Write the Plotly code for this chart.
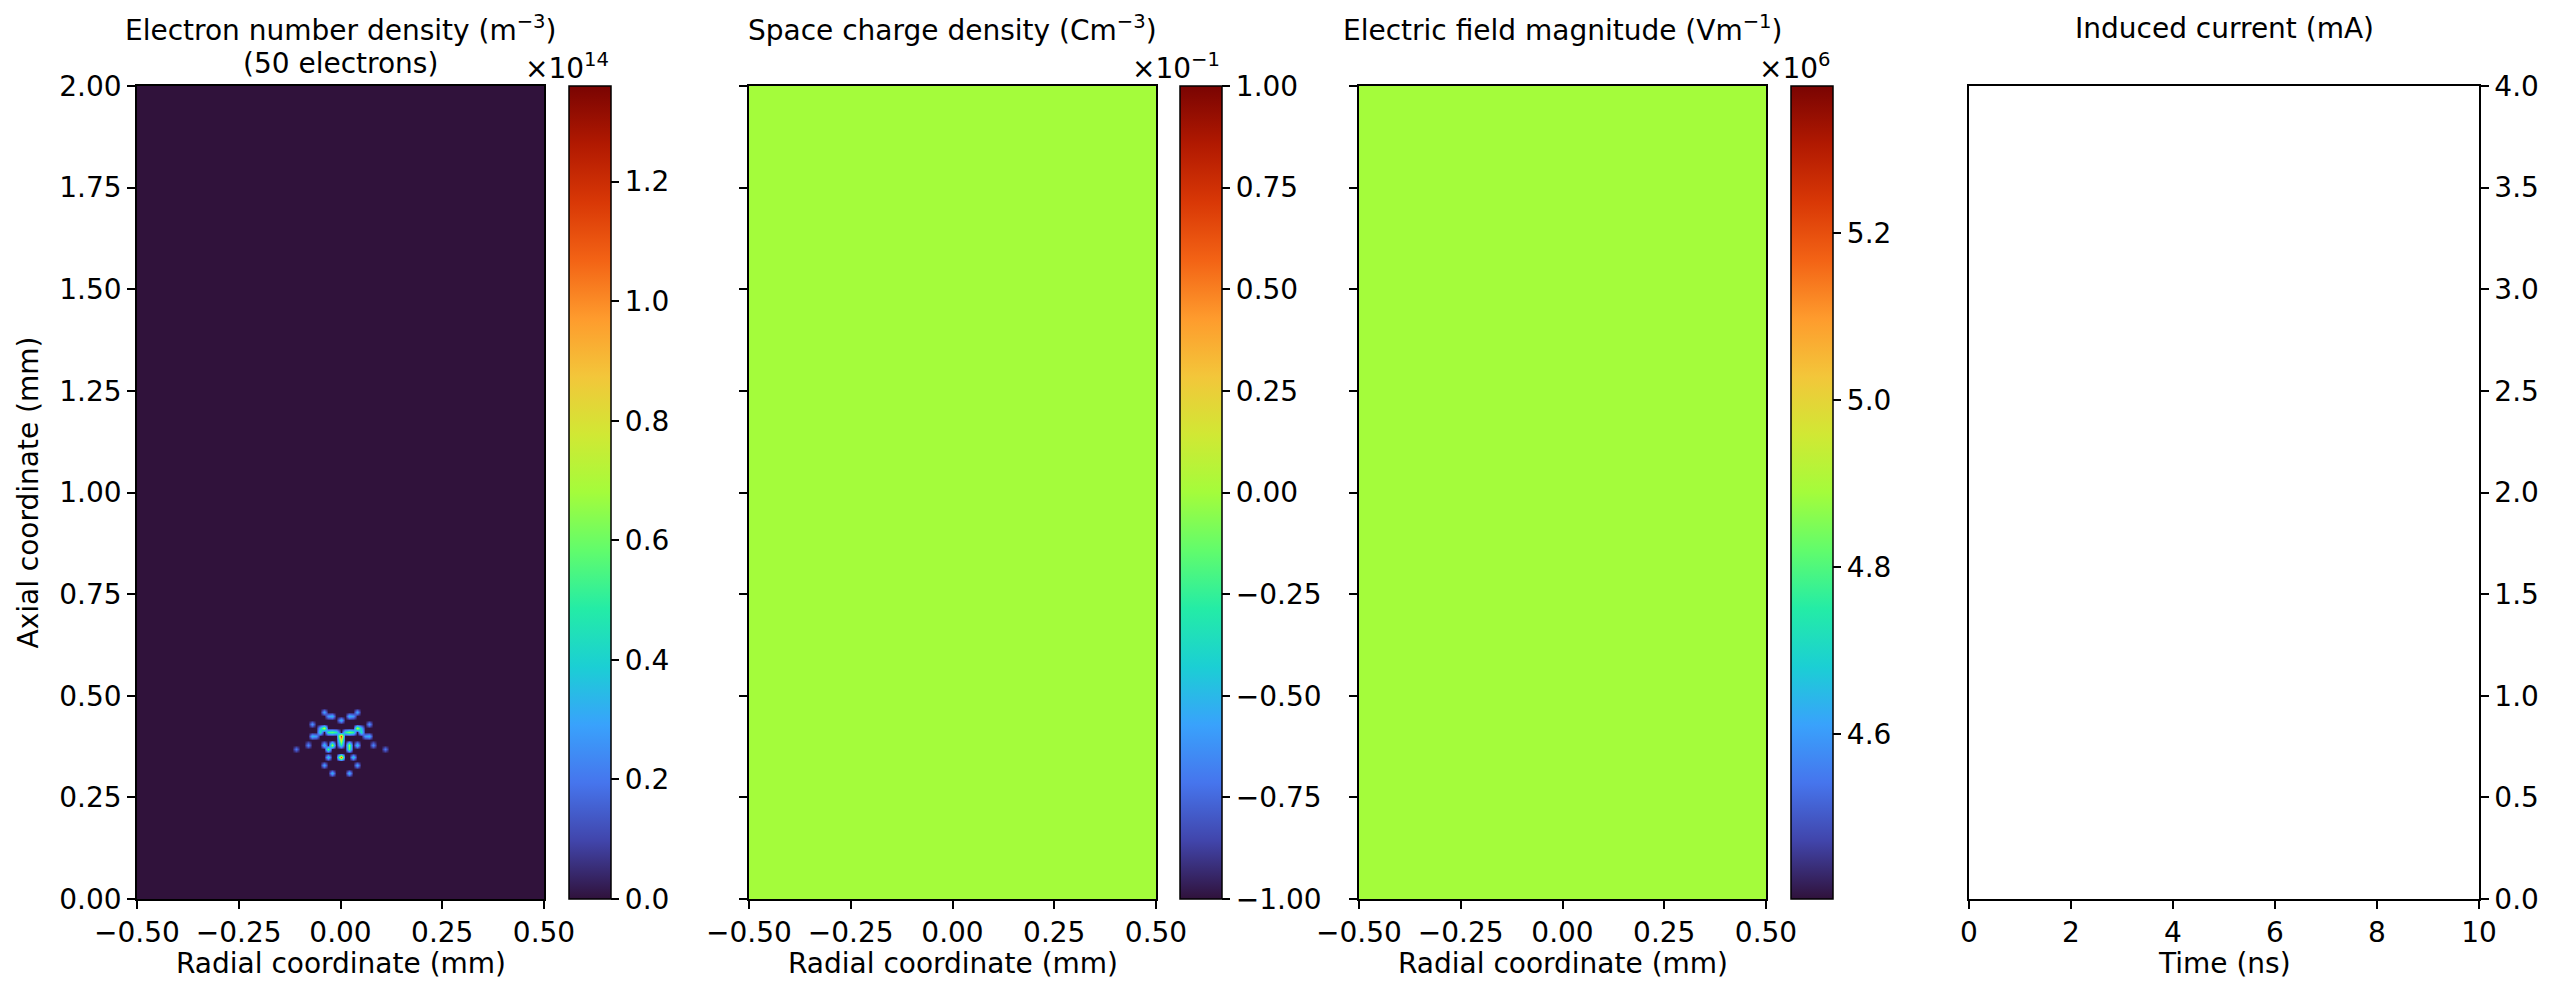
import numpy as np
import plotly.graph_objects as go

W, H = 2552, 983
OFF = 8            # the page body margin shifts the figure by 8 px
FONT = "DejaVu Sans"
FS = 28

# ---------------- data ----------------
R_RANGE = [-0.5, 0.5]      # radial coordinate, mm
Z_RANGE = [0.0, 2.0]       # axial coordinate, mm
GRID_STEP = 0.01           # mm, simulation grid spacing

# electron cloud (50 electrons): cell positions (mm) and density (x1e14 m^-3)
cloud_r = [-0.04, 0.04, -0.03, -0.02, 0.02, 0.03, 0.00,
           -0.07, 0.07, -0.05, -0.04, 0.04, 0.05,
           -0.07, -0.06, -0.05, -0.03, -0.02, -0.01, 0.00, 0.01, 0.02, 0.03, 0.05, 0.06, 0.07,
           0.00,
           -0.08, 0.08, -0.11, 0.11,
           -0.04, -0.02, 0.00, 0.02, 0.04,
           -0.03, 0.02,
           -0.03, 0.00, 0.03,
           -0.04, 0.04,
           -0.02, 0.02]
cloud_z = [0.46, 0.46, 0.45, 0.45, 0.45, 0.45, 0.44,
           0.43, 0.43, 0.42, 0.42, 0.42, 0.42,
           0.40, 0.40, 0.41, 0.41, 0.41, 0.41, 0.40, 0.41, 0.41, 0.41, 0.41, 0.40, 0.40,
           0.39,
           0.38, 0.38, 0.37, 0.37,
           0.38, 0.38, 0.38, 0.38, 0.38,
           0.37, 0.37,
           0.35, 0.35, 0.35,
           0.33, 0.33,
           0.31, 0.31]
cloud_n = [0.30, 0.30, 0.27, 0.34, 0.34, 0.27, 0.34,
           0.27, 0.27, 0.34, 0.75, 0.75, 0.34,
           0.34, 0.27, 0.47, 0.52, 0.57, 0.47, 1.15, 0.47, 0.62, 0.52, 0.47, 0.27, 0.34,
           0.80,
           0.24, 0.24, 0.20, 0.20,
           0.37, 0.72, 0.47, 0.68, 0.37,
           0.58, 0.58,
           0.40, 1.10, 0.40,
           0.30, 0.30,
           0.34, 0.34]
DENSITY_MAX = 1.36          # x1e14 m^-3

SPACE_CHARGE = 0.0          # C m^-3 (uniform)
SPACE_CHARGE_RANGE = [-0.1, 0.1]
FIELD = 4.889               # x1e6 V m^-1 (uniform)
FIELD_RANGE = [4.402, 5.376]

TIME_NS = []                # induced current trace (empty at t = 0)
CURRENT_MA = []

# tick labels
r_ticks = [-0.5, -0.25, 0.0, 0.25, 0.5]
r_ticktext = ["\u22120.50", "\u22120.25", "0.00", "0.25", "0.50"]
z_ticks = [0, 0.25, 0.5, 0.75, 1.0, 1.25, 1.5, 1.75, 2.0]
z_ticktext = ["0.00", "0.25", "0.50", "0.75", "1.00", "1.25", "1.50", "1.75", "2.00"]
dens_ticks = [0, 0.2, 0.4, 0.6, 0.8, 1.0, 1.2]
dens_ticktext = ["0.0", "0.2", "0.4", "0.6", "0.8", "1.0", "1.2"]
sc_ticks = [-0.1, -0.075, -0.05, -0.025, 0, 0.025, 0.05, 0.075, 0.1]
sc_ticktext = ["\u22121.00", "\u22120.75", "\u22120.50", "\u22120.25", "0.00",
               "0.25", "0.50", "0.75", "1.00"]
field_ticks = [4.6, 4.8, 5.0, 5.2]
field_ticktext = ["4.6", "4.8", "5.0", "5.2"]
t_ticks = [0, 2, 4, 6, 8, 10]
t_ticktext = ["0", "2", "4", "6", "8", "10"]
i_ticks = [0, 0.5, 1.0, 1.5, 2.0, 2.5, 3.0, 3.5, 4.0]
i_ticktext = ["0.0", "0.5", "1.0", "1.5", "2.0", "2.5", "3.0", "3.5", "4.0"]

# ---------------- build density grid ----------------
nr = int(round((R_RANGE[1] - R_RANGE[0]) / GRID_STEP)) + 1
nz = int(round((Z_RANGE[1] - Z_RANGE[0]) / GRID_STEP)) + 1
r_nodes = np.round(np.linspace(R_RANGE[0], R_RANGE[1], nr), 4)
z_nodes = np.round(np.linspace(Z_RANGE[0], Z_RANGE[1], nz), 4)
dens = np.zeros((nz, nr))
for r, z, n in zip(cloud_r, cloud_z, cloud_n):
    i = int(round((z - Z_RANGE[0]) / GRID_STEP))
    j = int(round((r - R_RANGE[0]) / GRID_STEP))
    dens[i, j] = max(dens[i, j], n)

# ---------------- geometry (target screen pixels) ----------------
top, bot = 86, 899
panels = [(137, 544), (749, 1156), (1359, 1766), (1969, 2479)]
cbars = [569, 1180, 1791]
CB_W = 42


def px(x):
    return (x - OFF) / W


def py(y):
    return 1 - (y - OFF) / H


yd = [py(bot), py(top)]
ymid = (yd[0] + yd[1]) / 2


def cbar(xleft, tickvals, ticktext):
    return dict(
        x=px(xleft), xanchor="left", xpad=0, ypad=0,
        y=ymid, yanchor="middle",
        thickness=CB_W, thicknessmode="pixels",
        len=bot - top, lenmode="pixels",
        outlinewidth=1.5, outlinecolor="black",
        tickvals=tickvals, ticktext=ticktext,
        ticks="outside", ticklen=8, tickwidth=1.5, tickcolor="black",
        tickfont=dict(family=FONT, size=FS, color="black"),
    )


fig = go.Figure()

fig.add_trace(go.Heatmap(
    x=r_nodes, y=z_nodes, z=dens, zmin=0, zmax=DENSITY_MAX,
    colorscale="Turbo", zsmooth="best", xaxis="x", yaxis="y",
    colorbar=cbar(cbars[0], dens_ticks, dens_ticktext), hoverinfo="skip"))

fig.add_trace(go.Heatmap(
    x=R_RANGE, y=Z_RANGE, z=[[SPACE_CHARGE]],
    zmin=SPACE_CHARGE_RANGE[0], zmax=SPACE_CHARGE_RANGE[1],
    colorscale="Turbo", xaxis="x2", yaxis="y2",
    colorbar=cbar(cbars[1], sc_ticks, sc_ticktext), hoverinfo="skip"))

fig.add_trace(go.Heatmap(
    x=R_RANGE, y=Z_RANGE, z=[[FIELD]],
    zmin=FIELD_RANGE[0], zmax=FIELD_RANGE[1],
    colorscale="Turbo", xaxis="x3", yaxis="y3",
    colorbar=cbar(cbars[2], field_ticks, field_ticktext), hoverinfo="skip"))

fig.add_trace(go.Scatter(x=TIME_NS, y=CURRENT_MA, mode="lines",
                         line=dict(color="#1f77b4", width=2),
                         xaxis="x4", yaxis="y4", showlegend=False))

axis_common = dict(
    showgrid=False, zeroline=False, showline=True, linecolor="black",
    linewidth=1.5, mirror=True, ticks="outside", ticklen=8, tickwidth=1.5,
    tickcolor="black", tickfont=dict(family=FONT, size=FS, color="black"),
    automargin=False,
)

layout = dict(
    width=W, height=H,
    margin=dict(l=0, r=0, t=0, b=0, pad=0, autoexpand=False),
    paper_bgcolor="white", plot_bgcolor="white", showlegend=False,
    font=dict(family=FONT, size=FS, color="black"),
)
names = ["", "2", "3", "4"]
for k, p in enumerate(panels):
    xa = dict(axis_common, domain=[px(p[0]), px(p[1])], anchor="y" + names[k])
    ya = dict(axis_common, domain=yd, anchor="x" + names[k])
    if k < 3:
        xa.update(range=R_RANGE, tickvals=r_ticks, ticktext=r_ticktext)
        ya.update(range=Z_RANGE, tickvals=z_ticks, ticktext=z_ticktext,
                  showticklabels=(k == 0))
    else:
        xa.update(range=[0, 10], tickvals=t_ticks, ticktext=t_ticktext)
        ya.update(range=[0, 4], tickvals=i_ticks, ticktext=i_ticktext,
                  side="right")
    layout["xaxis" + names[k]] = xa
    layout["yaxis" + names[k]] = ya

fig.update_layout(**layout)

ann = []


def text(x, y, s, **kw):
    d = dict(x=px(x), y=py(y), xref="paper", yref="paper", text=s,
             showarrow=False, xanchor="center", yanchor="middle",
             font=dict(family=FONT, size=FS, color="black"))
    d.update(kw)
    ann.append(d)


cx = [(p[0] + p[1]) / 2 for p in panels]
text(cx[0], 29, "Electron number density (m<sup>\u22123</sup>)")
text(cx[0], 64, "(50 electrons)")
text(cx[1], 29, "Space charge density (Cm<sup>\u22123</sup>)")
text(cx[2], 29, "Electric field magnitude (Vm<sup>\u22121</sup>)")
text(cx[3], 29, "Induced current (mA)")
for k in range(3):
    text(cx[k], 963, "Radial coordinate (mm)")
text(cx[3], 963, "Time (ns)")
text(28, (top + bot) / 2, "Axial coordinate (mm)", textangle=-90)
text(cbars[0] + CB_W, 66, "\u00d710<sup>14</sup>", xanchor="right")
text(cbars[1] + CB_W, 66, "\u00d710<sup>\u22121</sup>", xanchor="right")
text(cbars[2] + CB_W, 66, "\u00d710<sup>6</sup>", xanchor="right")
fig.update_layout(annotations=ann)

fig.write_html("out.html")
